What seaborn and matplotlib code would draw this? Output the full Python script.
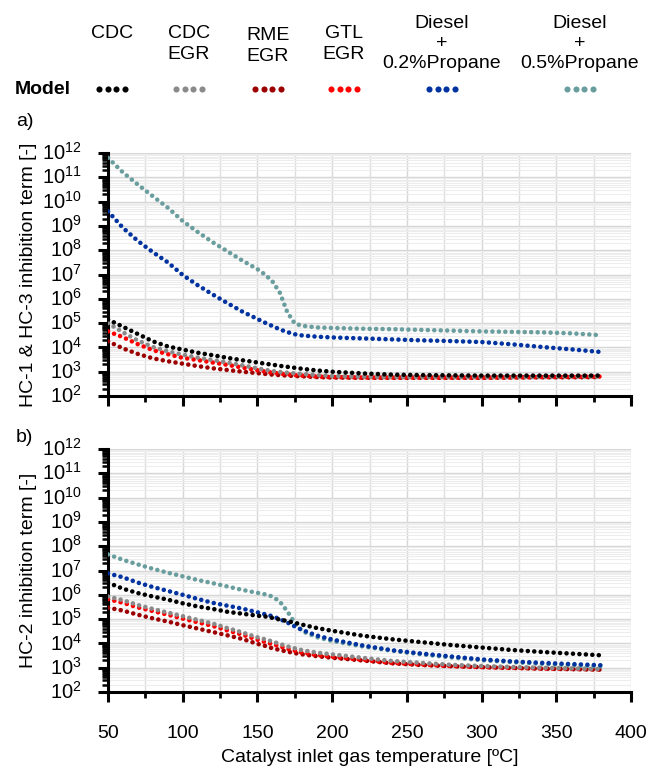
import numpy as np
import pandas as pd
import matplotlib
matplotlib.use("Agg")
import matplotlib.pyplot as plt
import matplotlib.transforms as mtransforms
from matplotlib.lines import Line2D
from matplotlib.ticker import MultipleLocator, LogLocator, NullFormatter
import seaborn as sns

# Temperaturas de entrada al catalizador [ºC]
temps = [50, 60, 70, 80, 90, 100, 110, 120, 130, 140, 150, 155, 160, 165, 170,
         175, 180, 190, 200, 220, 240, 260, 280, 300, 320, 340, 360, 380]

# Exponentes (log10) leidos del eje logaritmico - panel a) HC-1 & HC-3
a_cdc = [5.15, 4.85, 4.55, 4.25, 4.04, 3.91, 3.78, 3.68, 3.57, 3.47, 3.38, 3.33, 3.29, 3.24,
         3.20, 3.16, 3.12, 3.05, 3.00, 2.93, 2.88, 2.86, 2.85, 2.84, 2.84, 2.84, 2.84, 2.84]
a_cdc_egr = [5.00, 4.62, 4.28, 4.02, 3.84, 3.70, 3.58, 3.48, 3.38, 3.26, 3.14, 3.08, 3.03, 2.99,
             2.96, 2.93, 2.91, 2.86, 2.82, 2.79, 2.78, 2.78, 2.78, 2.78, 2.78, 2.79, 2.80, 2.80]
a_rme_egr = [4.25, 3.96, 3.73, 3.55, 3.43, 3.33, 3.23, 3.14, 3.07, 3.00, 2.94, 2.91, 2.88, 2.86,
             2.84, 2.82, 2.81, 2.78, 2.76, 2.75, 2.75, 2.75, 2.75, 2.75, 2.76, 2.77, 2.77, 2.78]
a_gtl_egr = [4.66, 4.42, 4.13, 3.89, 3.72, 3.57, 3.48, 3.38, 3.28, 3.17, 3.06, 3.01, 2.96, 2.92,
             2.89, 2.86, 2.84, 2.80, 2.78, 2.76, 2.76, 2.76, 2.76, 2.76, 2.77, 2.78, 2.79, 2.80]
a_prop02 = [9.60, 8.92, 8.38, 7.92, 7.50, 6.98, 6.56, 6.18, 5.82, 5.47, 5.17, 5.02, 4.88, 4.74,
            4.63, 4.54, 4.49, 4.44, 4.41, 4.37, 4.33, 4.29, 4.26, 4.22, 4.13, 4.02, 3.92, 3.81]
a_prop05 = [11.80, 11.20, 10.70, 10.22, 9.75, 9.20, 8.75, 8.33, 7.95, 7.57, 7.22, 7.00, 6.72, 6.25,
            5.45, 4.98, 4.89, 4.82, 4.80, 4.77, 4.75, 4.72, 4.69, 4.66, 4.64, 4.62, 4.58, 4.50]

# Panel b) HC-2
b_cdc = [6.50, 6.25, 6.07, 5.93, 5.80, 5.65, 5.52, 5.42, 5.30, 5.22, 5.14, 5.11, 5.05, 4.98,
         4.92, 4.85, 4.77, 4.63, 4.52, 4.32, 4.17, 4.05, 3.93, 3.83, 3.73, 3.65, 3.58, 3.51]
b_cdc_egr = [5.93, 5.78, 5.58, 5.42, 5.27, 5.12, 4.97, 4.82, 4.63, 4.45, 4.25, 4.17, 4.08, 3.98,
             3.88, 3.80, 3.72, 3.62, 3.55, 3.41, 3.28, 3.20, 3.12, 3.07, 3.03, 3.00, 2.97, 2.94]
b_rme_egr = [5.47, 5.35, 5.18, 5.03, 4.90, 4.75, 4.61, 4.47, 4.33, 4.18, 3.98, 3.90, 3.80, 3.73,
             3.66, 3.60, 3.55, 3.47, 3.41, 3.30, 3.18, 3.11, 3.06, 3.02, 2.99, 2.96, 2.94, 2.92]
b_gtl_egr = [5.82, 5.67, 5.48, 5.33, 5.18, 5.02, 4.87, 4.72, 4.53, 4.36, 4.15, 4.06, 3.97, 3.88,
             3.78, 3.70, 3.62, 3.52, 3.45, 3.33, 3.20, 3.13, 3.07, 3.03, 3.00, 2.97, 2.95, 2.93]
b_prop02 = [6.88, 6.72, 6.50, 6.32, 6.16, 6.00, 5.83, 5.67, 5.55, 5.43, 5.28, 5.20, 5.12, 5.00,
            4.86, 4.70, 4.55, 4.32, 4.16, 3.92, 3.72, 3.58, 3.46, 3.34, 3.26, 3.20, 3.15, 3.10]
b_prop05 = [7.66, 7.44, 7.25, 7.07, 6.91, 6.76, 6.61, 6.48, 6.34, 6.20, 6.08, 6.02, 5.93, 5.72,
            5.32, 4.85, 4.50, 4.25, 4.10, 3.88, 3.70, 3.55, 3.42, 3.31, 3.23, 3.16, 3.10, 3.05]

series = ["CDC", "CDC EGR", "RME EGR", "GTL EGR", "Diesel + 0.2%Propane", "Diesel + 0.5%Propane"]
headers = ["CDC", "CDC\nEGR", "RME\nEGR", "GTL\nEGR", "Diesel\n+\n0.2%Propane", "Diesel\n+\n0.5%Propane"]
colores = {"CDC": "#000000", "CDC EGR": "#8a8a8a", "RME EGR": "#9c0000", "GTL EGR": "#ff0000",
           "Diesel + 0.2%Propane": "#0033a0", "Diesel + 0.5%Propane": "#6a9e9e"}
orden = ["RME EGR", "GTL EGR", "CDC EGR", "Diesel + 0.5%Propane", "Diesel + 0.2%Propane", "CDC"]

xticks = [50, 100, 150, 200, 250, 300, 350, 400]
yexps = list(range(2, 13))


def tabla(columnas):
    filas = []
    for nombre, exps in zip(series, columnas):
        for t, e in zip(temps, exps):
            filas.append({"T": t, "valor": 10.0 ** e, "serie": nombre})
    return pd.DataFrame(filas)


datos_a = tabla([a_cdc, a_cdc_egr, a_rme_egr, a_gtl_egr, a_prop02, a_prop05])
datos_b = tabla([b_cdc, b_cdc_egr, b_rme_egr, b_gtl_egr, b_prop02, b_prop05])

sns.set_theme(style="white")
plt.rcParams["font.family"] = ["Liberation Sans", "DejaVu Sans"]
plt.rcParams["mathtext.default"] = "regular"
plt.rcParams["xtick.major.size"] = 7.5
plt.rcParams["ytick.major.size"] = 7
plt.rcParams["xtick.minor.size"] = 4.5
plt.rcParams["ytick.minor.size"] = 4
plt.rcParams["xtick.major.width"] = 2.2
plt.rcParams["ytick.major.width"] = 2.2
plt.rcParams["xtick.minor.width"] = 2.0
plt.rcParams["ytick.minor.width"] = 1.8
plt.rcParams["xtick.bottom"] = True
plt.rcParams["ytick.left"] = True
plt.rcParams["xtick.direction"] = "out"
plt.rcParams["ytick.direction"] = "out"

W, H = 651, 769
fig = plt.figure(figsize=(W / 100, H / 100), dpi=100)
ax_a = fig.add_axes([108 / W, 1 - 396 / H, 523 / W, 243 / H])
ax_b = fig.add_axes([108 / W, 1 - 692 / H, 523 / W, 243 / H])


def dibujar(ax, datos, ylabel, etiquetas_x):
    ax.set_yscale("log")
    sns.lineplot(data=datos, x="T", y="valor", hue="serie", hue_order=orden, palette=colores,
                 legend=False, ax=ax, linestyle=(0, (0.01, 1.4)), linewidth=3.3,
                 dash_capstyle="round", zorder=3)
    ax.set_xlim(50, 400)
    ax.set_ylim(1e2, 1e12)
    ax.xaxis.set_major_locator(MultipleLocator(50))
    ax.xaxis.set_minor_locator(MultipleLocator(25))
    ax.yaxis.set_major_locator(LogLocator(base=10, numticks=20))
    ax.yaxis.set_minor_locator(LogLocator(base=10, subs=np.arange(2, 10), numticks=20))
    ax.yaxis.set_minor_formatter(NullFormatter())
    ax.grid(which="major", color="#d6d6d6", linewidth=1.0)
    ax.yaxis.grid(which="minor", color="#ededed", linewidth=0.8)
    ax.xaxis.grid(which="minor", color="#dedede", linewidth=1.0)
    ax.set_axisbelow(True)
    for lado in ["top", "right"]:
        ax.spines[lado].set_visible(False)
    for lado in ["left", "bottom"]:
        ax.spines[lado].set_color("black")
        ax.spines[lado].set_linewidth(2.2)
    ax.tick_params(which="both", color="black", labelbottom=False, labelleft=False)
    ax.set_xlabel("")
    ax.set_ylabel(ylabel, fontsize=14, color="black")
    ax.yaxis.set_label_coords(-0.135, 0.5)

    # etiquetas de los ejes colocadas a mano (separacion como en el original)
    trans_y = mtransforms.blended_transform_factory(ax.transAxes, ax.transData)
    for e in yexps:
        ax.text(-0.05, 10.0 ** e, f"$10^{{{e}}}$", transform=trans_y, ha="right",
                va="center", fontsize=14.5, color="black")
    if etiquetas_x:
        trans_x = mtransforms.blended_transform_factory(ax.transData, ax.transAxes)
        for v in xticks:
            ax.text(v, -0.169, str(v), transform=trans_x, ha="center", va="center",
                    fontsize=14, color="black")


dibujar(ax_a, datos_a, "HC-1 & HC-3 inhibition term [-]", False)
dibujar(ax_b, datos_b, "HC-2 inhibition term [-]", True)

fig.text(370 / W, 1 - 757 / H, "Catalyst inlet gas temperature [ºC]", ha="center", va="center",
         fontsize=14, color="black")
fig.text(16 / W, 1 - 122 / H, "a)", ha="left", va="center", fontsize=14, color="black")
fig.text(16 / W, 1 - 438 / H, "b)", ha="left", va="center", fontsize=14, color="black")

# Leyenda tipo tabla
centros_x = [112, 189, 268, 344, 442, 580]
centros_y = [33, 44, 46, 44, 43.5, 43.5]
for nombre, texto, cx, cy in zip(series, headers, centros_x, centros_y):
    fig.text(cx / W, 1 - cy / H, texto, ha="center", va="center", fontsize=14,
             color="black", linespacing=1.25)
    xs = (cx + np.array([-12.75, -4.25, 4.25, 12.75])) / W
    fig.add_artist(Line2D(xs, [1 - 89 / H] * 4, transform=fig.transFigure, marker="o",
                          linestyle="none", markersize=4.4, color=colores[nombre],
                          markeredgewidth=0))
fig.text(15 / W, 1 - 89 / H, "Model", ha="left", va="center", fontsize=14,
         fontweight="bold", color="black")

fig.savefig("out.png", dpi=100)
